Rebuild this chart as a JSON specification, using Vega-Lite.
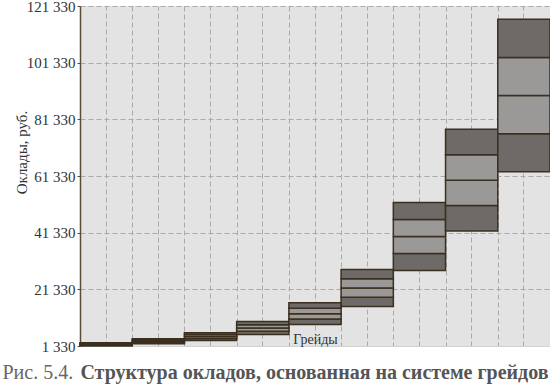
{
  "$schema": "https://vega.github.io/schema/vega-lite/v6.json",
  "width": 470,
  "height": 340,
  "autosize": {"type": "none"},
  "padding": {"left": 80, "top": 6, "right": 0, "bottom": 39},
  "background": "white",
  "config": {"view": {"fill": "#e3e3e3", "stroke": null}, "font": "Liberation Serif"},
  "data": {"values": [
    {"grade": 1, "q": 1, "lo": 1330, "hi": 1615},
    {"grade": 1, "q": 2, "lo": 1615, "hi": 1900},
    {"grade": 1, "q": 3, "lo": 1900, "hi": 2185},
    {"grade": 1, "q": 4, "lo": 2185, "hi": 2470},
    {"grade": 2, "q": 1, "lo": 2100, "hi": 2550},
    {"grade": 2, "q": 2, "lo": 2550, "hi": 3000},
    {"grade": 2, "q": 3, "lo": 3000, "hi": 3450},
    {"grade": 2, "q": 4, "lo": 3450, "hi": 3900},
    {"grade": 3, "q": 1, "lo": 3250, "hi": 3950},
    {"grade": 3, "q": 2, "lo": 3950, "hi": 4650},
    {"grade": 3, "q": 3, "lo": 4650, "hi": 5350},
    {"grade": 3, "q": 4, "lo": 5350, "hi": 6050},
    {"grade": 4, "q": 1, "lo": 5400, "hi": 6550},
    {"grade": 4, "q": 2, "lo": 6550, "hi": 7700},
    {"grade": 4, "q": 3, "lo": 7700, "hi": 8850},
    {"grade": 4, "q": 4, "lo": 8850, "hi": 10000},
    {"grade": 5, "q": 1, "lo": 8900, "hi": 10825},
    {"grade": 5, "q": 2, "lo": 10825, "hi": 12750},
    {"grade": 5, "q": 3, "lo": 12750, "hi": 14675},
    {"grade": 5, "q": 4, "lo": 14675, "hi": 16600},
    {"grade": 6, "q": 1, "lo": 15300, "hi": 18550},
    {"grade": 6, "q": 2, "lo": 18550, "hi": 21800},
    {"grade": 6, "q": 3, "lo": 21800, "hi": 25050},
    {"grade": 6, "q": 4, "lo": 25050, "hi": 28300},
    {"grade": 7, "q": 1, "lo": 28000, "hi": 34000},
    {"grade": 7, "q": 2, "lo": 34000, "hi": 40000},
    {"grade": 7, "q": 3, "lo": 40000, "hi": 46000},
    {"grade": 7, "q": 4, "lo": 46000, "hi": 52000},
    {"grade": 8, "q": 1, "lo": 41900, "hi": 50875},
    {"grade": 8, "q": 2, "lo": 50875, "hi": 59850},
    {"grade": 8, "q": 3, "lo": 59850, "hi": 68825},
    {"grade": 8, "q": 4, "lo": 68825, "hi": 77800},
    {"grade": 9, "q": 1, "lo": 62800, "hi": 76260},
    {"grade": 9, "q": 2, "lo": 76260, "hi": 89720},
    {"grade": 9, "q": 3, "lo": 89720, "hi": 103190},
    {"grade": 9, "q": 4, "lo": 103190, "hi": 116650}
  ]},
  "layer": [
    {
      "mark": {"type": "bar", "stroke": "#3b2f1f", "strokeWidth": 1.5},
      "encoding": {
        "x": {
          "field": "grade", "type": "ordinal",
          "scale": {"paddingInner": 0, "paddingOuter": 0},
          "axis": {
            "orient": "bottom", "labels": false, "ticks": false,
            "domain": true, "domainColor": "#d2d2d2", "domainWidth": 1,
            "grid": true, "tickBand": "extent", "gridColor": "#ababab", "gridDash": [5, 3], "gridWidth": 1,
            "title": "Грейды", "titleY": -3, "titleBaseline": "alphabetic",
            "titleFont": "Liberation Serif", "titleFontSize": 14, "titleFontWeight": "normal", "titleColor": "#333333"
          }
        },
        "y": {
          "field": "lo", "type": "quantitative",
          "scale": {"domain": [1330, 121330], "nice": false, "zero": false},
          "axis": {
            "orient": "left",
            "values": [1330, 21330, 41330, 61330, 81330, 101330, 121330],
            "labelExpr": "replace(format(datum.value, ','), ',', ' ')",
            "labelFont": "Liberation Serif", "labelFontSize": 15, "labelColor": "#333333", "labelPadding": 2,
            "domainColor": "#5b4b37", "domainWidth": 1.5, "tickColor": "#5b4b37", "tickSize": 3,
            "grid": true, "gridColor": "#ababab", "gridDash": [5, 3], "gridWidth": 1,
            "title": "Оклады, руб.", "titleFont": "Liberation Serif", "titleFontSize": 15, "titleFontWeight": "normal",
            "titleColor": "#333333", "titleX": -54, "titleY": 146, "titleAlign": "center", "titleBaseline": "alphabetic", "titleAngle": -90
          }
        },
        "y2": {"field": "hi"},
        "color": {
          "field": "q", "type": "ordinal",
          "scale": {"domain": [1, 2, 3, 4], "range": ["#6e6a67", "#9a9997", "#9a9997", "#6e6a67"]},
          "legend": null
        }
      }
    },
    {
      "mark": {"type": "bar", "opacity": 0},
      "encoding": {
        "x": {
          "field": "grade", "type": "ordinal",
          "axis": {
            "orient": "top", "labels": false, "ticks": false, "domain": false,
            "grid": true, "tickBand": "center", "gridColor": "#ababab", "gridDash": [5, 3], "gridWidth": 1,
            "title": "Рис. 5.4.", "titleX": -78, "titleY": 372, "titleAlign": "left", "titleBaseline": "alphabetic",
            "titleFont": "Liberation Serif", "titleFontSize": 20, "titleFontWeight": "normal", "titleColor": "#666666"
          }
        },
        "y": {
          "field": "lo", "type": "quantitative",
          "axis": {
            "orient": "right", "labels": false, "ticks": false, "domain": false, "grid": false,
            "title": "Структура окладов, основанная на системе грейдов", "titleAngle": 0,
            "titleX": -2, "titleY": 372, "titleAlign": "right", "titleBaseline": "alphabetic",
            "titleFont": "Liberation Serif", "titleFontSize": 20, "titleFontWeight": "bold", "titleColor": "#555555"
          }
        },
        "y2": {"field": "hi"}
      }
    }
  ],
  "resolve": {"axis": {"x": "independent", "y": "independent"}}
}
